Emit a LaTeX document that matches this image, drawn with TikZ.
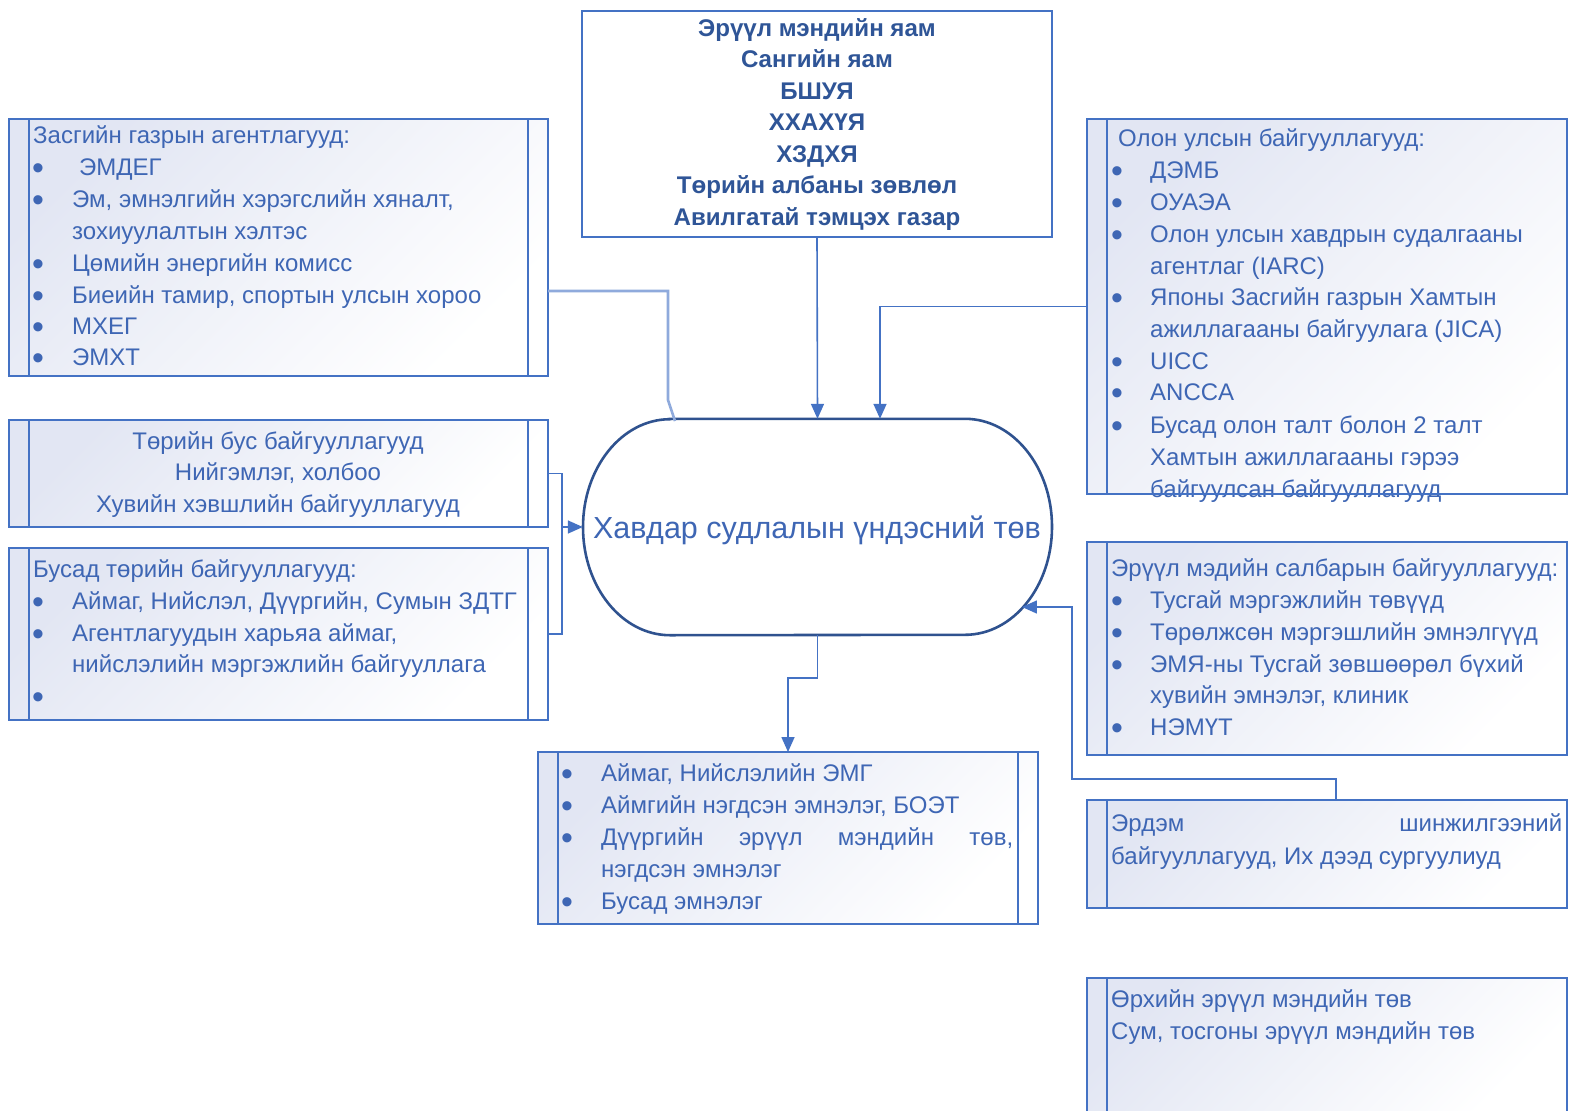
\documentclass[tikz,border=0pt]{standalone}
\usepackage{fontspec}
\setmainfont{Liberation Sans}
\usetikzlibrary{arrows.meta,calc}
\definecolor{bord}{HTML}{4472C4}
\definecolor{txtc}{HTML}{3E66B4}
\definecolor{darkt}{HTML}{2F5597}
\definecolor{ellb}{HTML}{2F528F}
\definecolor{lite}{HTML}{8FAADC}
\definecolor{shadec}{HTML}{E2E6F3}
\newcommand\mkline[4]{\node[ln] (#1) at (#2,#3) {#4};}
\newcommand\mkbul[3]{\node[bul] (#1) at (#2,#3+5) {•};}
\begin{document}
\begin{tikzpicture}[x=1bp,y=-1bp,
  font=\fontsize{24.1}{29}\selectfont,
  box/.style={draw=bord, line width=1.6pt, top color=shadec, bottom color=white, shading angle=45, inner sep=0pt, outer sep=0pt},
  bar/.style={draw=bord, line width=1.6pt},
  ln/.style={anchor=base west, inner sep=0pt, text=txtc},
  lnc/.style={anchor=base, inner sep=0pt, text=txtc},
  bul/.style={anchor=center, inner sep=0pt, text=txtc, font=\fontsize{34}{34}\selectfont},
  conn/.style={draw=bord, line width=1.6pt},
  tip/.style={-{Triangle[length=15pt,width=13pt]}}
]
\useasboundingbox (0,0) rectangle (1578,1110);
\fill[white] (0,0) rectangle (1578,1110);
\begin{pgfinterruptboundingbox}
% ---------- boxes ----------
\node[box, minimum width=539bp, minimum height=257bp] (L1) at (278.5,247.5) {};
\node[box, minimum width=539bp, minimum height=107bp] (L2) at (278.5,473.5) {};
\node[box, minimum width=539bp, minimum height=172bp] (L3) at (278.5,634) {};
\node[box, minimum width=480bp, minimum height=375bp] (R1) at (1327,306.5) {};
\node[box, minimum width=480bp, minimum height=213bp] (R2) at (1327,648.5) {};
\node[box, minimum width=480bp, minimum height=108bp] (R3) at (1327,854) {};
\node[box, minimum width=480bp, minimum height=136bp] (R4) at (1327,1046) {};
\node[box, minimum width=500bp, minimum height=172bp] (B) at (788,838) {};
\node[draw=bord, line width=2.4pt, fill=white, minimum width=470bp, minimum height=226bp, inner sep=0pt] (T) at (817,124) {};

% inner bars
\foreach \n in {L1,L2,L3,B}{
  \draw[bar] ([xshift=20bp]\n.north west) -- ([xshift=20bp]\n.south west);
  \draw[bar] ([xshift=-20bp]\n.north east) -- ([xshift=-20bp]\n.south east);
}
\foreach \n in {R1,R2,R3,R4}{
  \draw[bar] ([xshift=20bp]\n.north west) -- ([xshift=20bp]\n.south west);
}

% ---------- centre ----------
\node[minimum width=469bp, minimum height=216bp, inner sep=0pt] (C) at (817.5,527) {};
\draw[ellb, line width=2.6pt, fill=white]
  ([xshift=-147.5bp]C.north) -- ([xshift=147.5bp]C.north)
  arc[start angle=90, end angle=-90, x radius=87bp, y radius=108bp]
  -- ([xshift=-147.5bp]C.south)
  arc[start angle=-90, end angle=-270, x radius=87bp, y radius=108bp] -- cycle;
\node[anchor=base, inner sep=0pt, text=txtc, font=\fontsize{30.6}{36}\selectfont] (ct) at (817,538) {Хавдар судлалын үндэсний төв};

% ---------- top text ----------
\begin{scope}[every node/.style={anchor=base, inner sep=0pt, text=darkt, font=\fontsize{24.2}{28}\selectfont\bfseries}]
\node (t1) at (817,36) {Эрүүл мэндийн яам};
\node (t2) at (817,67.5) {Сангийн яам};
\node (t3) at (817,99) {БШУЯ};
\node (t4) at (817,130.5) {ХХАХҮЯ};
\node (t5) at (817,162) {ХЗДХЯ};
\node (t6) at (817,193.5) {Төрийн албаны зөвлөл};
\node (t7) at (817,225) {Авилгатай тэмцэх газар};
\end{scope}

% ---------- L1 ----------
\mkline{a0}{33}{143}{Засгийн газрын агентлагууд:}
\mkbul{ab1}{38}{167}\mkline{a1}{79}{175}{ЭМДЕГ}
\mkbul{ab2}{38}{199}\mkline{a2}{72}{207}{Эм, эмнэлгийн хэрэгслийн хяналт,}
\mkline{a3}{72}{239}{зохиуулалтын хэлтэс}
\mkbul{ab4}{38}{263}\mkline{a4}{72}{271}{Цөмийн энергийн комисс}
\mkbul{ab5}{38}{295}\mkline{a5}{72}{303}{Биеийн тамир, спортын улсын хороо}
\mkbul{ab6}{38}{326}\mkline{a6}{72}{334}{МХЕГ}
\mkbul{ab7}{38}{357}\mkline{a7}{72}{365}{ЭМХТ}

% ---------- L2 ----------
\node[lnc] (b1) at (278,449) {Төрийн бус байгууллагууд};
\node[lnc] (b2) at (278,480) {Нийгэмлэг, холбоо};
\node[lnc] (b3) at (278,512) {Хувийн хэвшлийн байгууллагууд};

% ---------- L3 ----------
\mkline{c0}{33}{577}{Бусад төрийн байгууллагууд:}
\mkbul{cb1}{38}{601}\mkline{c1}{72}{609}{Аймаг, Нийслэл, Дүүргийн, Сумын ЗДТГ}
\mkbul{cb2}{38}{633}\mkline{c2}{72}{641}{Агентлагуудын харьяа аймаг,}
\mkline{c3}{72}{672}{нийслэлийн мэргэжлийн байгууллага}
\mkbul{cb4}{38}{696}

% ---------- R1 ----------
\mkline{d0}{1118}{146}{Олон улсын байгууллагууд:}
\mkbul{db1}{1117}{170}\mkline{d1}{1150}{178}{ДЭМБ}
\mkbul{db2}{1117}{202}\mkline{d2}{1150}{210}{ОУАЭА}
\mkbul{db3}{1117}{234}\mkline{d3}{1150}{242}{Олон улсын хавдрын судалгааны}
\mkline{d4}{1150}{274}{агентлаг (IARC)}
\mkbul{db5}{1117}{297}\mkline{d5}{1150}{305}{Японы Засгийн газрын Хамтын}
\mkline{d6}{1150}{337}{ажиллагааны байгуулага (JICA)}
\mkbul{db7}{1117}{361}\mkline{d7}{1150}{369}{UICC}
\mkbul{db8}{1117}{392}\mkline{d8}{1150}{400}{ANCCA}
\mkbul{db9}{1117}{425}\mkline{d9}{1150}{433}{Бусад олон талт болон 2 талт}
\mkline{d10}{1150}{465}{Хамтын ажиллагааны гэрээ}
\mkline{d11}{1150}{497}{байгуулсан байгууллагууд}
\draw[bar] (R1.south west) -- (R1.south east);

% ---------- R2 ----------
\mkline{e0}{1111}{576}{Эрүүл мэдийн салбарын байгууллагууд:}
\mkbul{eb1}{1117}{600}\mkline{e1}{1150}{608}{Тусгай мэргэжлийн төвүүд}
\mkbul{eb2}{1117}{632}\mkline{e2}{1150}{640}{Төрөлжсөн мэргэшлийн эмнэлгүүд}
\mkbul{eb3}{1117}{664}\mkline{e3}{1150}{672}{ЭМЯ-ны Тусгай зөвшөөрөл бүхий}
\mkline{e4}{1150}{703}{хувийн эмнэлэг, клиник}
\mkbul{eb5}{1117}{727}\mkline{e5}{1150}{735}{НЭМҮТ}

% ---------- R3 ----------
\mkline{f1}{1111}{831}{\hbox to 451bp{Эрдэм\hfill шинжилгээний}}
\mkline{f2}{1111}{864}{байгууллагууд, Их дээд сургуулиуд}

% ---------- R4 ----------
\mkline{g1}{1111}{1007}{Өрхийн эрүүл мэндийн төв}
\mkline{g2}{1111}{1039}{Сум, тосгоны эрүүл мэндийн төв}

% ---------- B ----------
\mkbul{hb1}{567}{773}\mkline{h1}{601}{781}{Аймаг, Нийслэлийн ЭМГ}
\mkbul{hb2}{567}{805}\mkline{h2}{601}{813}{Аймгийн нэгдсэн эмнэлэг, БОЭТ}
\mkbul{hb3}{567}{837}\mkline{h3}{601}{845}{\hbox to 412bp{Дүүргийн\hfill эрүүл\hfill мэндийн\hfill төв,}}
\mkline{h4}{601}{877}{нэгдсэн эмнэлэг}
\mkbul{hb5}{567}{901}\mkline{h5}{601}{909}{Бусад эмнэлэг}

% ---------- connectors ----------
\draw[conn, tip] (T.south) -- (C.north);
\draw[conn, tip] (R1.west) -| ([xshift=62.5bp]C.north);
\draw[lite, line width=2.6pt] ([yshift=-43.5bp]L1.east) -- ++(120,0) -- ++(0,109) -- ++(7,21);
\draw[conn] (L2.east) -- ++(14,0) coordinate (j1) -- (j1 |- L3.east) -- (L3.east);
\draw[conn, tip] (j1 |- C.west) -- (C.west);
\draw[conn, tip] (C.south) -- ++(0,43) -| (B.north);
\coordinate (rt) at (1022,607);
\draw[conn, tip] ([xshift=9bp]R3.north) -- ++(0,-21) -| (1072,607) -- (rt);
\end{pgfinterruptboundingbox}
\end{tikzpicture}
\end{document}
